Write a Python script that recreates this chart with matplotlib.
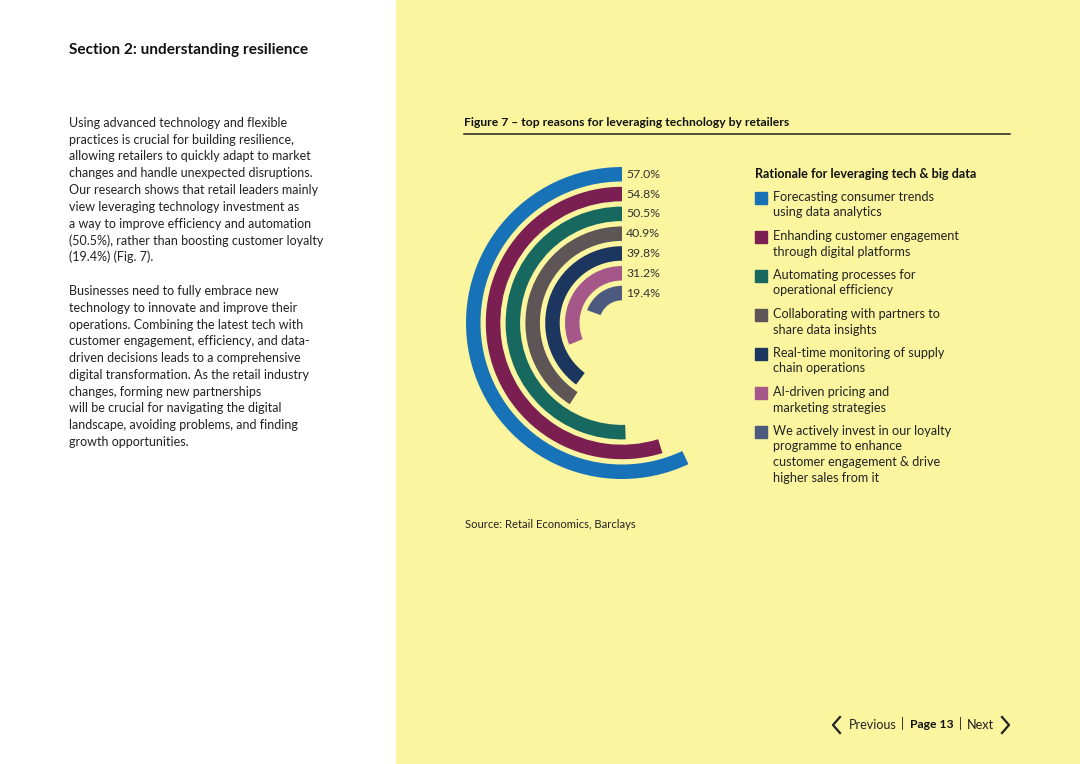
import matplotlib.pyplot as plt
import matplotlib.patches as patches
from matplotlib.lines import Line2D
import numpy as np

plt.rcParams['font.family'] = ['Lato', 'DejaVu Sans']

# data
reasons = [
    "Forecasting consumer trends\nusing data analytics",
    "Enhanding customer engagement\nthrough digital platforms",
    "Automating processes for\noperational efficiency",
    "Collaborating with partners to\nshare data insights",
    "Real-time monitoring of supply\nchain operations",
    "AI-driven pricing and\nmarketing strategies",
    "We actively invest in our loyalty\nprogramme to enhance\ncustomer engagement & drive\nhigher sales from it",
]
shares = [57.0, 54.8, 50.5, 40.9, 39.8, 31.2, 19.4]
colors = ["#1772B8", "#7B1F52", "#17695F", "#5E5656", "#1C3660", "#A5578A", "#4D5A80"]

body_1 = [
    "Using advanced technology and flexible",
    "practices is crucial for building resilience,",
    "allowing retailers to quickly adapt to market",
    "changes and handle unexpected disruptions.",
    "Our research shows that retail leaders mainly",
    "view leveraging technology investment as",
    "a way to improve efficiency and automation",
    "(50.5%), rather than boosting customer loyalty",
    "(19.4%) (Fig. 7).",
]
body_2 = [
    "Businesses need to fully embrace new",
    "technology to innovate and improve their",
    "operations. Combining the latest tech with",
    "customer engagement, efficiency, and data-",
    "driven decisions leads to a comprehensive",
    "digital transformation. As the retail industry",
    "changes, forming new partnerships",
    "will be crucial for navigating the digital",
    "landscape, avoiding problems, and finding",
    "growth opportunities.",
]

W, H = 1080, 764
fig = plt.figure(figsize=(W / 100, H / 100), dpi=100)
fig.patch.set_facecolor("white")


def fx(x):
    return x / W


def fy(y):
    return 1 - y / H


txt = "#222222"

# yellow panel (behind the axes)
fig.patches.append(patches.Rectangle((fx(396), 0), 1 - fx(396), 1,
                                     transform=fig.transFigure, color="#FAF59E", zorder=-5))

# left column
fig.text(fx(69), fy(50), "Section 2: understanding resilience", fontsize=11.1,
         fontweight="bold", color="#111111", va="center")
for i, line in enumerate(body_1):
    fig.text(fx(69), fy(123 + i * 16.75), line, fontsize=9.0, color=txt, va="center")
for i, line in enumerate(body_2):
    fig.text(fx(69), fy(291 + i * 16.75), line, fontsize=9.0, color=txt, va="center")

# figure title and rule
fig.text(fx(464), fy(123), "Figure 7 \u2013 top reasons for leveraging technology by retailers",
         fontsize=8.75, fontweight="bold", color="#111111", va="center")
fig.add_artist(Line2D([fx(464), fx(1010)], [fy(134), fy(134)], color="#222222",
                      lw=1.1, transform=fig.transFigure))

# radial bar chart, center at (622, 323) px
cx, cy, half = 622, 323, 160
ax = fig.add_axes([fx(cx - half), fy(cy + half), 2 * half / W, 2 * half / H],
                  projection="polar")
ax.set_theta_zero_location("N")
ax.set_theta_direction(1)
ax.set_ylim(0, half)
ax.axis("off")

step = 19.8
thick = 14.5
for i, (v, c) in enumerate(zip(shares, colors)):
    r_out = 156 - i * step
    theta = v / 100 * 2 * np.pi
    ax.bar(theta / 2, thick, width=theta, bottom=r_out - thick, color=c,
           edgecolor="none", align="center")
    ax.annotate(f"{v:.1f}%", xy=(0, r_out - thick / 2), xytext=(3, 0),
                textcoords="offset points", ha="left", va="center",
                fontsize=8.8, color="#333333", annotation_clip=False)

# legend
fig.text(fx(755), fy(174), "Rationale for leveraging tech & big data", fontsize=9.1,
         fontweight="bold", color="#111111", va="center")
y = 197
for lab, c in zip(reasons, colors):
    fig.patches.append(patches.Rectangle((fx(755), fy(y + 7)), 12 / W, 12 / H,
                                         transform=fig.transFigure, color=c, zorder=2))
    for j, part in enumerate(lab.split("\n")):
        fig.text(fx(773), fy(y + j * 15.5), part, fontsize=9.1, color=txt, va="center")
    y += 15.5 * len(lab.split("\n")) + 8

# source
fig.text(fx(465), fy(525), "Source: Retail Economics, Barclays", fontsize=8.1,
         color=txt, va="center")

# navigation
fig.add_artist(Line2D([fx(840), fx(833), fx(840)], [fy(717), fy(725), fy(733)],
                      color="#222222", lw=1.6, transform=fig.transFigure))
fig.text(fx(849), fy(725), "Previous", fontsize=9.0, color=txt, va="center")
fig.text(fx(901), fy(724), "|", fontsize=9, color=txt, va="center")
fig.text(fx(910), fy(725), "Page 13", fontsize=8.7, fontweight="bold", color="#111111",
         va="center")
fig.text(fx(959), fy(724), "|", fontsize=9, color=txt, va="center")
fig.text(fx(967), fy(725), "Next", fontsize=9.2, color=txt, va="center")
fig.add_artist(Line2D([fx(1002), fx(1009), fx(1002)], [fy(717), fy(725), fy(733)],
                      color="#222222", lw=1.6, transform=fig.transFigure))

fig.savefig("out.png", dpi=100)
